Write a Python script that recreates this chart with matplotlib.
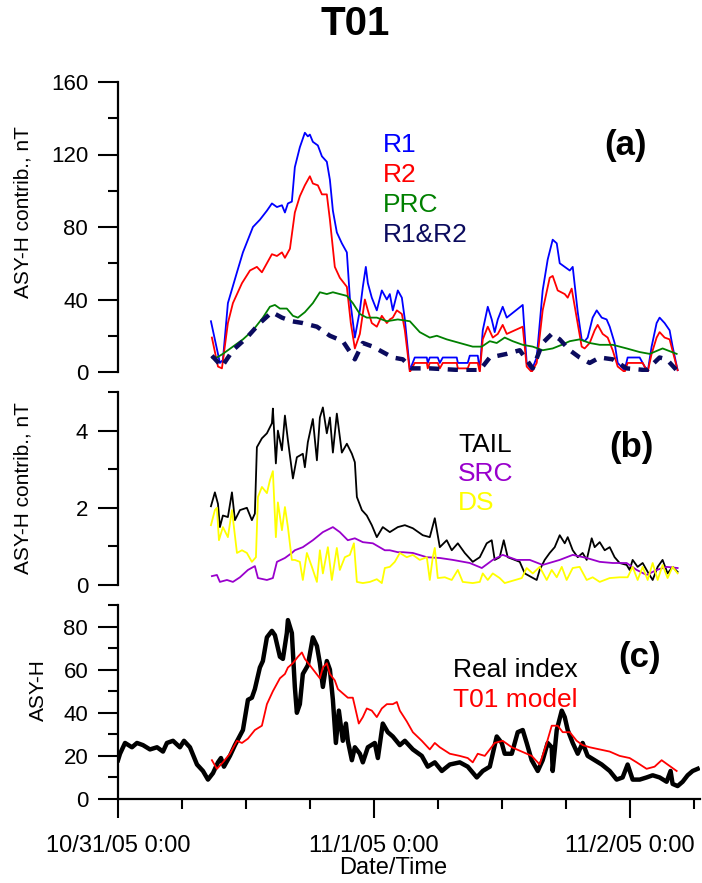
import numpy as np
import matplotlib
matplotlib.use("Agg")
import matplotlib.pyplot as plt
from matplotlib.ticker import MultipleLocator, FixedLocator

plt.rcParams['font.family'] = ['Liberation Sans', 'DejaVu Sans']

# time in hours since 10/31/05 0:00
# ---- panel (a)
r1_t = [8.72, 9.56, 9.84, 10.31, 11.16, 11.72, 12.66, 13.31, 13.97, 14.44, 14.91, 15.38, 15.66, 15.94,
        16.31, 16.59, 17.06, 17.53, 17.81, 18.0, 18.28, 18.75, 19.13, 19.59, 19.88, 20.16, 20.53, 21.0,
        21.47, 21.75, 22.22, 22.69, 22.97, 23.25, 23.44, 23.81, 24.28, 24.75, 25.22, 25.5, 25.78, 26.25,
        26.63, 26.91, 27.38, 27.84, 28.97, 29.06, 29.25, 30.0, 30.19, 30.47, 31.78, 31.88, 32.81, 33.0,
        33.75, 33.94, 34.22, 34.69, 35.06, 35.34, 35.63, 36.09, 36.47, 37.97, 38.34, 38.81, 39.28, 39.84,
        40.31, 40.78, 41.16, 41.44, 41.91, 42.38, 42.66, 43.13, 43.5, 43.78, 44.06, 44.53, 44.91, 45.38,
        45.84, 46.13, 46.59, 46.88, 47.53, 47.81, 48.94, 49.22, 49.69, 50.06, 50.53, 50.81, 51.28, 51.75,
        52.03, 52.5]
r1_v = [28, 5, 6.6, 38, 55, 66, 80, 84, 89, 93, 91, 92, 88, 93,
        94, 113, 124, 132, 130, 131, 127, 125, 119, 116, 106, 89, 77, 71,
        66, 41, 19, 34, 47, 58, 49, 41, 34, 45, 40, 43, 34, 45,
        41, 29, 1, 8, 8, 5, 8, 8, 5, 8, 8, 5, 5, 9,
        9, 1, 23, 36, 29, 22, 29, 36, 30, 37, 5, 1, 8, 45,
        62, 73, 71, 60, 58, 56, 58, 33, 18, 17, 19, 30, 34, 30,
        29, 25, 16, 5, 1, 8, 8, 5, 0, 14, 27, 30, 27, 23,
        14, 1]

r2_t = [8.81, 9.38, 9.75, 10.31, 10.78, 11.63, 12.38, 13.03, 13.5, 13.97, 14.44, 14.91, 15.38, 15.66,
        16.13, 16.59, 17.06, 17.53, 18.0, 18.28, 18.75, 19.13, 19.59, 19.88, 20.34, 20.81, 21.47, 21.84,
        22.22, 22.69, 23.16, 23.44, 23.81, 24.28, 24.75, 25.22, 25.5, 25.78, 26.16, 26.63, 26.91, 27.38,
        27.84, 28.97, 29.06, 29.25, 30.0, 30.19, 30.47, 31.78, 31.88, 32.81, 33.0, 33.75, 33.94, 34.22,
        34.69, 35.16, 35.63, 36.09, 36.47, 37.97, 38.34, 38.81, 39.28, 39.84, 40.5, 40.78, 41.25, 41.91,
        42.19, 42.56, 43.03, 43.5, 43.78, 44.25, 44.72, 45.0, 45.47, 45.94, 46.41, 46.88, 47.53, 47.81,
        49.22, 49.69, 50.06, 50.53, 50.81, 51.28, 51.75, 52.5]
r2_v = [19, 3, 2, 27, 38, 49, 56, 58, 55, 60, 65, 64, 66, 63,
        68, 88, 97, 103, 108, 104, 103, 98, 98, 84, 58, 52, 47, 27,
        13, 21, 40, 34, 27, 25, 31, 27, 29, 30, 34, 32, 23, 0,
        5, 5, 2, 5, 5, 2, 5, 5, 2, 2, 5, 5, 0, 18,
        25, 19, 21, 26, 21, 25, 3, 0, 5, 34, 52, 53, 45, 43,
        41, 46, 30, 14, 13, 16, 23, 26, 21, 19, 12, 3, 0, 5,
        5, 0, 10, 19, 22, 19, 18, 1]

prc_t = [8.81, 9.28, 9.84, 10.78, 11.72, 12.66, 13.59, 14.25, 14.72, 15.19, 15.84, 16.41, 16.88, 17.53,
         18.28, 18.94, 19.59, 20.16, 20.81, 21.47, 22.03, 22.69, 23.34, 24.28, 25.22, 26.25, 27.38, 28.31,
         29.25, 29.91, 30.84, 32.06, 33.28, 34.13, 34.88, 35.53, 36.28, 37.03, 37.97, 38.91, 39.84, 40.78,
         41.63, 42.38, 43.31, 44.25, 45.19, 46.41, 47.72, 48.94, 49.88, 51.09, 52.41]
prc_v = [8, 8, 10, 14, 18, 23, 30, 36, 37, 35, 35, 31, 30, 33,
         38, 44, 43, 44, 43, 42, 38, 32, 30, 30, 28, 29, 28, 22,
         19, 20, 18, 16, 14, 14, 17, 16, 19, 17, 15, 14, 12, 13,
         15, 17, 18, 16, 15, 15, 13, 11, 10, 13, 10]

r12_t = [8.81, 9.75, 10.78, 12.09, 13.31, 14.44, 15.38, 16.31, 17.34, 18.66, 19.88, 21.09, 22.22, 22.97,
         23.91, 24.84, 25.78, 26.72, 27.56, 29.25, 32.34, 33.94, 34.88, 36.47, 37.69, 38.91, 39.84, 40.69,
         41.44, 42.38, 43.31, 44.25, 45.19, 46.41, 47.72, 49.59, 50.81, 51.47, 52.41]
r12_v = [9, 3, 12, 19, 27, 33, 30, 28, 27, 25, 20, 17, 7, 16,
         14, 11, 8, 7, 2, 2, 1, 1, 8, 10, 12, 2, 16, 21,
         18, 12, 8, 5, 8, 7, 2, 1, 8, 7, 1]

# ---- panel (b)
tail_t = [8.72, 9.09, 9.38, 9.56, 9.84, 10.31, 10.69, 10.97, 11.44, 12.09, 12.56, 12.84, 13.03, 13.5,
          13.97, 14.44, 14.53, 14.81, 15.0, 15.38, 15.66, 15.94, 16.41, 16.78, 17.34, 17.53, 17.81, 18.28,
          18.66, 18.94, 19.22, 19.59, 19.88, 20.16, 20.53, 21.0, 21.47, 21.94, 22.22, 22.41, 22.88, 23.34,
          23.81, 24.28, 24.84, 25.5, 26.25, 26.91, 27.66, 28.59, 29.25, 29.72, 30.19, 30.84, 31.31, 31.88,
          32.53, 33.28, 33.94, 34.59, 35.06, 35.34, 35.81, 36.19, 36.56, 37.69, 38.16, 38.81, 39.28, 39.56,
          40.03, 40.5, 40.97, 41.44, 41.91, 42.19, 42.66, 43.13, 43.59, 43.97, 44.44, 44.72, 45.19, 45.66,
          46.13, 46.59, 47.06, 47.72, 48.0, 48.28, 48.75, 49.22, 49.69, 50.16, 50.63, 51.09, 51.56, 52.03,
          52.5]
tail_v = [2.04, 2.4, 2.1, 1.5, 1.8, 1.76, 2.4, 1.68, 1.94, 2.0, 1.68, 1.85, 3.57, 3.8,
          3.93, 4.19, 4.57, 3.15, 4.0, 3.49, 4.39, 3.75, 2.76, 3.31, 3.4, 3.05, 3.7, 4.3,
          3.23, 4.34, 4.6, 3.93, 4.34, 3.43, 4.44, 3.43, 3.66, 3.4, 3.18, 2.28, 1.94, 1.8,
          1.55, 1.24, 1.5, 1.37, 1.5, 1.55, 1.47, 1.29, 1.24, 1.73, 0.98, 1.16, 0.9, 1.08,
          0.83, 0.6, 0.72, 1.08, 1.16, 0.65, 0.72, 1.16, 0.72, 0.6, 0.3, 0.2, 0.13, 0.39,
          0.65, 0.83, 0.98, 1.29, 1.08, 1.24, 0.9, 0.72, 0.83, 0.65, 1.21, 0.98, 1.11, 0.9,
          0.98, 0.72, 0.57, 0.52, 0.39, 0.65, 0.47, 0.57, 0.34, 0.13, 0.47, 0.65, 0.3, 0.47,
          0.34]

src_t = [8.81, 9.28, 9.56, 10.22, 10.78, 11.44, 12.19, 12.84, 13.13, 13.97, 14.53, 14.91, 15.66, 16.31,
         16.59, 17.34, 18.28, 19.22, 20.16, 20.81, 21.56, 22.22, 22.97, 23.91, 25.03, 25.5, 26.25, 26.72,
         27.66, 28.97, 30.19, 31.41, 33.0, 34.13, 35.16, 36.09, 37.41, 38.63, 39.84, 41.44, 42.66, 43.97,
         45.19, 46.41, 47.72, 48.66, 49.59, 50.53, 51.47, 52.5]
src_v = [0.23, 0.26, 0.08, 0.13, 0.08, 0.2, 0.39, 0.49, 0.18, 0.13, 0.18, 0.6, 0.7, 0.83,
         0.9, 0.98, 1.16, 1.37, 1.5, 1.37, 1.16, 1.21, 1.11, 1.08, 0.9, 0.9, 0.85, 0.85,
         0.83, 0.72, 0.7, 0.65, 0.57, 0.44, 0.65, 0.78, 0.65, 0.65, 0.52, 0.65, 0.78, 0.7,
         0.6, 0.57, 0.57, 0.39, 0.26, 0.39, 0.47, 0.44]

ds_t = [8.72, 9.09, 9.28, 9.47, 9.84, 10.31, 10.69, 11.16, 11.63, 12.09, 12.56, 12.94, 13.13, 13.5,
        13.97, 14.25, 14.53, 14.81, 15.0, 15.38, 15.66, 15.94, 16.31, 16.59, 17.06, 17.34, 17.72, 18.19,
        18.66, 18.94, 19.22, 19.69, 20.06, 20.53, 20.81, 21.28, 21.75, 22.13, 22.41, 22.97, 23.63, 24.28,
        24.75, 25.03, 25.5, 25.97, 26.44, 27.09, 27.66, 28.31, 28.97, 29.25, 29.53, 29.72, 30.0, 30.66,
        31.31, 31.88, 32.34, 33.28, 33.94, 34.22, 34.69, 35.16, 35.81, 36.28, 37.88, 38.34, 38.91, 39.56,
        40.22, 40.69, 41.16, 41.63, 42.09, 42.66, 43.31, 43.97, 44.53, 45.19, 46.13, 47.06, 47.81, 48.28,
        48.75, 49.22, 49.69, 50.16, 50.63, 51.09, 51.56, 52.03, 52.5]
ds_v = [1.55, 1.94, 2.0, 1.16, 1.5, 1.24, 1.94, 0.83, 0.9, 0.83, 0.6, 0.72, 2.28, 2.54,
        2.38, 2.71, 2.95, 1.24, 2.14, 1.42, 2.02, 1.5, 0.65, 0.65, 0.6, 0.13, 0.83, 0.47,
        0.08, 0.9, 0.3, 0.98, 0.13, 0.96, 0.39, 0.72, 0.78, 1.08, 0.08, 0.05, 0.08, 0.15,
        0.05, 0.44, 0.47, 0.6, 0.83, 0.72, 0.78, 0.65, 0.72, 0.13, 0.72, 0.96, 0.18, 0.2,
        0.13, 0.39, 0.08, 0.05, 0.08, 0.3, 0.13, 0.3, 0.18, 0.05, 0.18, 0.44, 0.3, 0.47,
        0.13, 0.39, 0.2, 0.47, 0.13, 0.44, 0.47, 0.13, 0.2, 0.08, 0.18, 0.2, 0.2, 0.47,
        0.13, 0.47, 0.13, 0.57, 0.13, 0.52, 0.18, 0.47, 0.3]

# ---- panel (c)
real_t = [0.0, 0.19, 0.66, 1.31, 1.78, 2.34, 3.0, 3.66, 4.22, 4.59, 5.16, 5.81, 6.19, 6.75,
          7.41, 7.97, 8.44, 8.91, 9.38, 9.66, 9.94, 10.5, 10.97, 11.72, 12.19, 12.56, 12.84, 13.31,
          13.59, 13.97, 14.44, 14.72, 15.19, 15.47, 15.84, 15.94, 16.31, 16.59, 16.78, 17.06, 17.34, 17.81,
          18.28, 18.66, 18.94, 19.22, 19.59, 19.88, 20.16, 20.44, 20.72, 21.09, 21.38, 21.56, 21.94, 22.22,
          22.69, 22.97, 23.44, 24.09, 24.38, 24.84, 25.31, 25.78, 26.44, 26.91, 27.66, 28.5, 29.06, 29.72,
          30.38, 31.13, 32.06, 32.81, 33.66, 34.22, 34.88, 35.53, 36.0, 36.28, 36.94, 37.5, 37.97, 38.34,
          38.81, 39.38, 39.84, 40.31, 40.69, 40.78, 41.16, 41.63, 41.91, 42.19, 42.66, 43.13, 43.59, 44.06,
          44.72, 45.38, 46.13, 46.78, 47.34, 47.81, 48.28, 48.94, 49.59, 50.16, 50.81, 51.47, 51.84, 52.03,
          52.5, 52.97, 53.44, 53.91, 54.38]
real_v = [18, 21, 26, 24, 26, 25, 23, 24, 22, 26, 27, 24, 27, 24,
          16, 13, 9, 12, 17, 19, 15, 20, 25, 32, 46, 47, 51, 61,
          64, 75, 78, 76, 66, 65, 77, 83, 77, 52, 40, 44, 58, 62,
          75, 71, 63, 52, 64, 60, 46, 26, 41, 27, 35, 27, 18, 24,
          21, 17, 24, 26, 19, 35, 31, 29, 25, 27, 23, 20, 15, 17,
          13, 16, 17, 15, 10, 13, 15, 29, 26, 21, 21, 31, 32, 26,
          18, 13, 18, 26, 24, 13, 32, 41, 38, 32, 26, 21, 26, 20,
          18, 16, 13, 9, 10, 16, 9, 9, 10, 11, 10, 8, 13, 7,
          6, 8, 11, 13, 14]

t01_t = [8.81, 9.28, 9.84, 10.5, 11.16, 11.63, 12.19, 12.84, 13.5, 13.97, 14.53, 15.19, 15.66, 15.94,
         16.41, 16.88, 17.25, 17.53, 18.0, 18.47, 18.94, 19.22, 19.59, 19.88, 20.34, 20.63, 21.09, 21.56,
         22.03, 22.22, 22.59, 22.97, 23.34, 23.81, 24.28, 24.75, 25.22, 25.78, 26.16, 26.44, 27.09, 27.66,
         28.5, 29.25, 29.72, 30.19, 31.13, 32.06, 32.81, 33.28, 33.75, 34.41, 34.88, 35.34, 36.09, 36.94,
         37.88, 38.81, 39.56, 40.22, 40.69, 41.25, 41.72, 42.38, 43.03, 43.59, 44.25, 45.19, 46.13, 47.06,
         48.0, 48.66, 49.59, 50.34, 51.0, 51.56, 52.41]
t01_v = [18, 14, 17, 21, 27, 26, 28, 32, 34, 44, 50, 56, 58, 61,
         63, 66, 68, 65, 62, 59, 56, 61, 63, 58, 55, 51, 49, 47,
         47, 43, 35, 38, 42, 41, 38, 42, 44, 44, 45, 41, 36, 31,
         27, 23, 26, 24, 21, 20, 19, 17, 21, 20, 23, 26, 27, 24,
         22, 20, 16, 26, 34, 34, 31, 31, 27, 25, 24, 23, 22, 20,
         19, 17, 14, 15, 18, 16, 13]

day_ticks = [0, 24, 48]
day_labels = ["10/31/05 0:00", "11/1/05 0:00", "11/2/05 0:00"]

W, H = 702, 883
fig = plt.figure(figsize=(W / 100, H / 100), dpi=100)


def box(top, bottom):
    return [118 / W, 1 - bottom / H, 582 / W, (bottom - top) / H]


ax_a = fig.add_axes(box(82, 372))
ax_b = fig.add_axes(box(392, 585))
ax_c = fig.add_axes(box(605, 799))

xmax = 54.6
for ax in (ax_a, ax_b, ax_c):
    ax.set_xlim(0, xmax)
    for s in ("top", "right"):
        ax.spines[s].set_visible(False)
    ax.spines["left"].set_linewidth(1.6)
    ax.spines["bottom"].set_linewidth(1.6)
    ax.tick_params(axis="y", which="major", length=14.5, width=1.5, labelsize=16, pad=7)
    ax.tick_params(axis="y", which="minor", length=7, width=1.5)
    ax.patch.set_alpha(0)

for ax in (ax_a, ax_b):
    ax.spines["bottom"].set_visible(False)
    ax.tick_params(axis="x", which="both", bottom=False, labelbottom=False)

# (a)
ax_a.plot(r1_t, r1_v, color="#0000FF", lw=1.3)
ax_a.plot(r2_t, r2_v, color="#FF0000", lw=1.3)
ax_a.plot(prc_t, prc_v, color="#008000", lw=1.3)
ax_a.plot(r12_t, r12_v, color="#0B0B5E", lw=3.2, dashes=(2.3, 1.9))
ax_a.set_ylim(0, 160)
ax_a.yaxis.set_major_locator(MultipleLocator(40))
ax_a.yaxis.set_minor_locator(MultipleLocator(20))
ax_a.set_ylabel("ASY-H contrib., nT", fontsize=15, va="center")
ax_a.yaxis.set_label_coords(-0.163, 0.55)

# (b)
ax_b.plot(tail_t, tail_v, color="black", lw=1.3)
ax_b.plot(src_t, src_v, color="#9900CC", lw=1.3)
ax_b.plot(ds_t, ds_v, color="#FFFF00", lw=1.3)
ax_b.set_ylim(0, 5)
ax_b.yaxis.set_major_locator(FixedLocator([0, 2, 4]))
ax_b.yaxis.set_minor_locator(FixedLocator([1, 3, 5]))
ax_b.set_ylabel("ASY-H contrib., nT", fontsize=15, va="center")
ax_b.yaxis.set_label_coords(-0.163, 0.5)

# (c)
ax_c.plot(t01_t, t01_v, color="#FF0000", lw=1.3, zorder=3)
ax_c.plot(real_t, real_v, color="black", lw=3.2, zorder=2)
ax_c.set_ylim(0, 90)
ax_c.yaxis.set_major_locator(FixedLocator([0, 20, 40, 60, 80]))
ax_c.yaxis.set_minor_locator(FixedLocator([10, 30, 50, 70, 90]))
ax_c.set_ylabel("ASY-H", fontsize=15, va="center")
ax_c.yaxis.set_label_coords(-0.137, 0.56)
ax_c.xaxis.set_major_locator(FixedLocator(day_ticks))
ax_c.xaxis.set_minor_locator(MultipleLocator(6))
ax_c.set_xticklabels(day_labels, fontsize=17)
ax_c.tick_params(axis="x", which="major", length=14, width=1.5, pad=12)
ax_c.tick_params(axis="x", which="minor", length=7, width=1.5)
ax_c.set_xlabel("Date/Time", fontsize=17, va="center")
ax_c.xaxis.set_label_coords((393 - 118) / 582, -0.355)

# legends as coloured text
def legend_text(ax, x, y, items, step):
    for i, (txt, col) in enumerate(items):
        ax.text(x, y - i * step, txt, color=col, fontsize=19, ha="left", va="center",
                transform=ax.transAxes)

legend_text(ax_a, (383 - 118) / 582, (372 - 145) / 290,
            [("R1", "#0000FF"), ("R2", "#FF0000"), ("PRC", "#008000"), ("R1&R2", "#0B0B5E")], 30 / 290)
legend_text(ax_b, (458 - 118) / 582, (585 - 445) / 193,
            [("TAIL", "black"), ("SRC", "#9900CC"), ("DS", "#FFFF00")], 29 / 193)
legend_text(ax_c, (453 - 118) / 582, (799 - 670) / 194,
            [("Real index", "black"), ("T01 model", "#FF0000")], 30 / 194)

for ax, lab, (px, py), top, bot in ((ax_a, "(a)", (625, 145), 82, 372),
                                    (ax_b, "(b)", (631, 448), 392, 585),
                                    (ax_c, "(c)", (640, 658), 605, 799)):
    ax.text((px - 118) / 582, (bot - py) / (bot - top), lab, fontsize=25, fontweight="bold",
            ha="center", va="center", transform=ax.transAxes)

fig.text(355 / W, 1 - 24 / H, "T01", fontsize=29, fontweight="bold", ha="center", va="center")

plt.savefig("out.png", dpi=100)
